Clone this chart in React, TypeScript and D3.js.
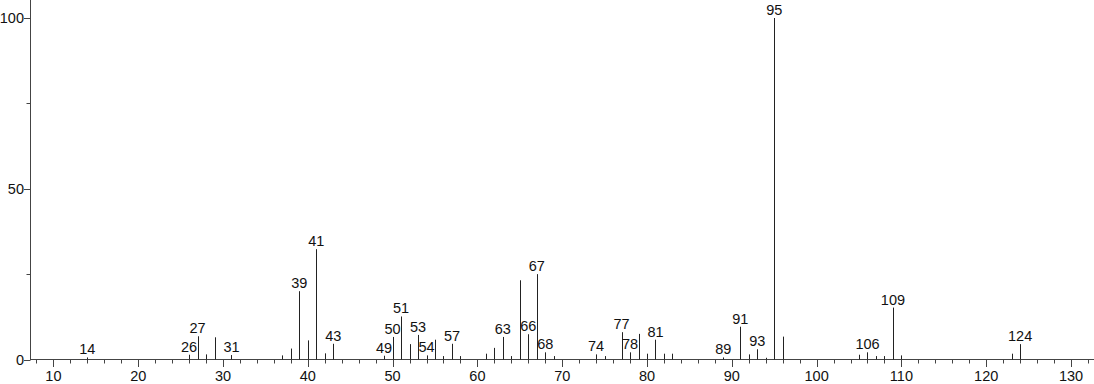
import React from "react";
import * as d3 from "d3";

const mz = [14, 26, 27, 28, 29, 31, 37, 38, 39, 40, 41, 42, 43, 49, 50, 51, 52, 53, 54, 55, 56, 57, 58, 61, 62, 63, 64, 65, 66, 67, 68, 69, 74, 75, 77, 78, 79, 80, 81, 82, 83, 89, 91, 92, 93, 94, 95, 96, 105, 106, 107, 108, 109, 110, 123, 124];
const intensity = [0.6, 1.4, 6.8, 1.5, 6.5, 1.3, 1.2, 3.2, 20.0, 5.6, 32.3, 1.8, 4.6, 1.1, 6.6, 12.6, 4.5, 7.2, 1.2, 5.8, 1.0, 4.6, 1.0, 1.7, 3.4, 6.6, 1.0, 23.2, 7.4, 25.0, 2.1, 1.0, 1.5, 1.0, 8.0, 2.1, 7.5, 1.7, 5.8, 1.7, 1.7, 0.6, 9.6, 1.5, 3.0, 0.5, 100, 6.7, 1.4, 2.1, 1.0, 1.0, 15.2, 1.2, 1.7, 4.5];
const labeledMz = [14, 26, 27, 31, 39, 41, 43, 49, 50, 51, 53, 54, 57, 63, 66, 67, 68, 74, 77, 78, 81, 89, 91, 93, 95, 106, 109, 124];
const xTicks = [10, 20, 30, 40, 50, 60, 70, 80, 90, 100, 110, 120, 130];
const yTicks = [0, 50, 100];

const W = 1094;
const H = 384;

export default function App() {
  const x = d3.scaleLinear().domain([7.24, 132.71]).range([30, 1094]);
  const y = d3.scaleLinear().domain([0, 100]).range([359.5, 18]);
  const yTop = 0;
  const minorX = d3.range(8, 133, 2).filter((v) => v % 10 !== 0);
  const minorY = [25, 75];
  const font = "'Liberation Sans', Arial, sans-serif";
  const axisColor = "#444";
  const fs = 14.5;
  const px = (v: number) => Math.round(x(v)) + 0.5;

  return (
    <svg
      width={W}
      height={H}
      style={{ position: "absolute", left: 0, top: 0, background: "#fff" }}
      fontFamily={font}
    >
      <rect x={0} y={0} width={W} height={H} fill="#fff" />
      {/* y axis */}
      <line x1={30.5} x2={30.5} y1={yTop} y2={359.5} stroke={axisColor} strokeWidth={1} />
      {yTicks.map((t) => (
        <g key={"yt" + t}>
          <line x1={24} x2={30.5} y1={Math.round(y(t)) + 0.5} y2={Math.round(y(t)) + 0.5} stroke={axisColor} />
          <text x={24} y={y(t) + 5} textAnchor="end" fontSize={fs} fill="#111">
            {t}
          </text>
        </g>
      ))}
      {minorY.map((t) => (
        <line key={"ym" + t} x1={26.5} x2={30.5} y1={Math.round(y(t)) + 0.5} y2={Math.round(y(t)) + 0.5} stroke={axisColor} />
      ))}
      {/* x axis */}
      <line x1={30} x2={W} y1={359.5} y2={359.5} stroke={axisColor} strokeWidth={1} />
      {xTicks.map((t) => (
        <g key={"xt" + t}>
          <line x1={px(t)} x2={px(t)} y1={359.5} y2={367} stroke={axisColor} />
          <text x={x(t)} y={380.5} textAnchor="middle" fontSize={fs} fill="#111">
            {t}
          </text>
        </g>
      ))}
      {minorX.map((t) => (
        <line key={"xm" + t} x1={px(t)} x2={px(t)} y1={359.5} y2={363.5} stroke={axisColor} />
      ))}
      {/* peaks */}
      {mz.map((m, i) => (
        <line
          key={"p" + m}
          x1={px(m)}
          x2={px(m)}
          y1={359.5}
          y2={y(intensity[i])}
          stroke="#222"
          strokeWidth={1}
        />
      ))}
      {mz.map((m, i) =>
        labeledMz.includes(m) ? (
          <text
            key={"l" + m}
            x={x(m)}
            y={y(intensity[i]) - 3}
            textAnchor="middle"
            fontSize={fs}
            fill="#111"
          >
            {m}
          </text>
        ) : null
      )}
    </svg>
  );
}
